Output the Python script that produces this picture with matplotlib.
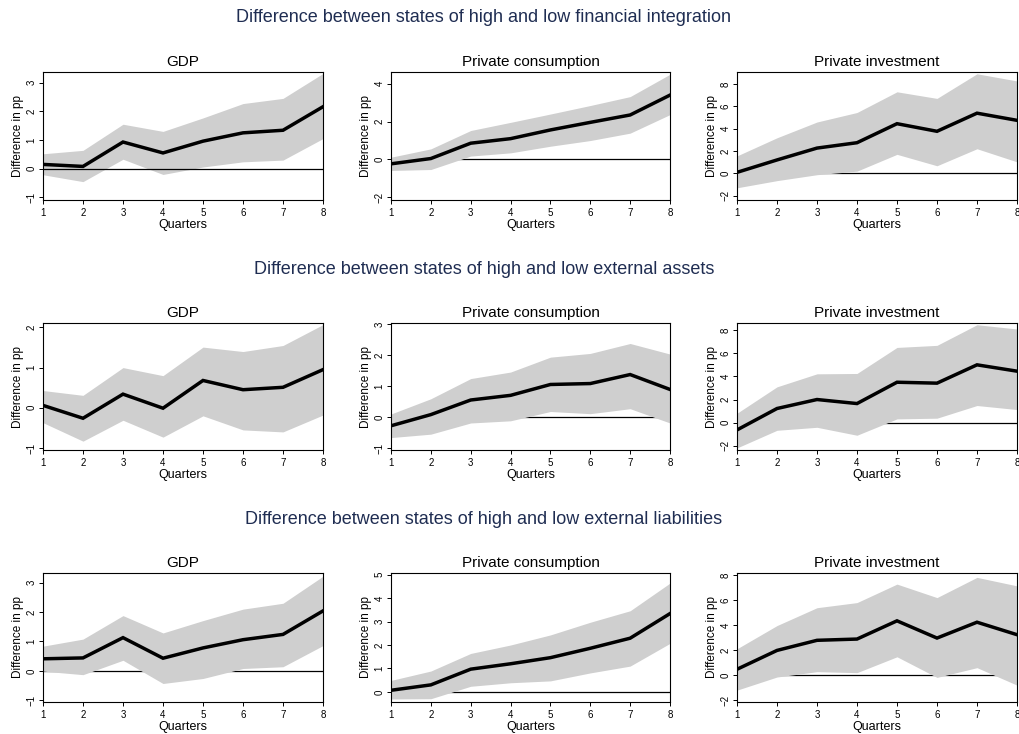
import matplotlib

matplotlib.use("Agg")
import matplotlib.pyplot as plt

plt.rcParams["font.family"] = ["Liberation Sans", "DejaVu Sans"]

quarters = [1, 2, 3, 4, 5, 6, 7, 8]

row_titles = [
    "Difference between states of high and low financial integration",
    "Difference between states of high and low external assets",
    "Difference between states of high and low external liabilities",
]
panel_titles = ["GDP", "Private consumption", "Private investment"]

# financial integration
fi_gdp = [0.15, 0.08, 0.93, 0.55, 0.96, 1.25, 1.34, 2.16]
fi_gdp_hi = [0.52, 0.64, 1.55, 1.30, 1.77, 2.27, 2.45, 3.32]
fi_gdp_lo = [-0.21, -0.45, 0.33, -0.20, 0.06, 0.24, 0.30, 1.05]
fi_cons = [-0.23, 0.05, 0.86, 1.10, 1.56, 1.96, 2.35, 3.40]
fi_cons_hi = [0.12, 0.56, 1.53, 1.96, 2.40, 2.85, 3.32, 4.50]
fi_cons_lo = [-0.58, -0.53, 0.18, 0.35, 0.70, 1.00, 1.39, 2.37]
fi_inv = [0.09, 1.20, 2.26, 2.74, 4.44, 3.76, 5.38, 4.74]
fi_inv_hi = [1.56, 3.18, 4.59, 5.44, 7.29, 6.70, 8.90, 8.26]
fi_inv_lo = [-1.29, -0.65, -0.12, 0.20, 1.70, 0.68, 2.20, 1.03]

# external assets
ea_gdp = [0.06, -0.26, 0.34, -0.01, 0.68, 0.45, 0.51, 0.95]
ea_gdp_hi = [0.43, 0.31, 1.00, 0.80, 1.51, 1.40, 1.55, 2.07]
ea_gdp_lo = [-0.37, -0.83, -0.31, -0.73, -0.20, -0.55, -0.60, -0.18]
ea_cons = [-0.27, 0.09, 0.56, 0.71, 1.06, 1.09, 1.38, 0.90]
ea_cons_hi = [0.11, 0.60, 1.25, 1.46, 1.94, 2.06, 2.38, 2.04]
ea_cons_lo = [-0.65, -0.54, -0.18, -0.11, 0.19, 0.12, 0.28, -0.18]
ea_inv = [-0.64, 1.22, 2.00, 1.65, 3.50, 3.42, 5.01, 4.46]
ea_inv_hi = [0.81, 3.10, 4.23, 4.26, 6.52, 6.70, 8.49, 8.12]
ea_inv_lo = [-2.20, -0.67, -0.41, -1.10, 0.32, 0.38, 1.48, 1.13]

# external liabilities
el_gdp = [0.41, 0.44, 1.13, 0.43, 0.78, 1.06, 1.24, 2.04]
el_gdp_hi = [0.84, 1.08, 1.88, 1.29, 1.71, 2.10, 2.30, 3.22]
el_gdp_lo = [-0.01, -0.13, 0.36, -0.43, -0.26, 0.08, 0.14, 0.86]
el_cons = [0.07, 0.30, 0.97, 1.20, 1.46, 1.86, 2.29, 3.34]
el_cons_hi = [0.49, 0.89, 1.64, 2.00, 2.43, 2.97, 3.46, 4.64]
el_cons_lo = [-0.30, -0.29, 0.24, 0.39, 0.47, 0.81, 1.10, 2.07]
el_inv = [0.46, 1.97, 2.78, 2.88, 4.34, 2.96, 4.23, 3.23]
el_inv_hi = [2.10, 3.96, 5.39, 5.80, 7.28, 6.20, 7.82, 7.14]
el_inv_lo = [-1.21, -0.16, 0.27, 0.19, 1.46, -0.19, 0.59, -0.81]

panels = [
    [(fi_gdp, fi_gdp_lo, fi_gdp_hi), (fi_cons, fi_cons_lo, fi_cons_hi), (fi_inv, fi_inv_lo, fi_inv_hi)],
    [(ea_gdp, ea_gdp_lo, ea_gdp_hi), (ea_cons, ea_cons_lo, ea_cons_hi), (ea_inv, ea_inv_lo, ea_inv_hi)],
    [(el_gdp, el_gdp_lo, el_gdp_hi), (el_cons, el_cons_lo, el_cons_hi), (el_inv, el_inv_lo, el_inv_hi)],
]

# y ticks and limits per panel
yticks = [
    [[-1, 0, 1, 2, 3], [-2, 0, 2, 4], [-2, 0, 2, 4, 6, 8]],
    [[-1, 0, 1, 2], [-1, 0, 1, 2, 3], [-2, 0, 2, 4, 6, 8]],
    [[-1, 0, 1, 2, 3], [0, 1, 2, 3, 4, 5], [-2, 0, 2, 4, 6, 8]],
]
ylims = [
    [(-1.09, 3.37), (-2.14, 4.62), (-2.38, 9.06)],
    [(-1.05, 2.11), (-1.05, 3.04), (-2.38, 8.64)],
    [(-1.06, 3.33), (-0.43, 5.07), (-2.16, 8.17)],
]

W, H = 1019, 734
fig = plt.figure(figsize=(W / 100, H / 100), dpi=100)

col_x = [(43, 323), (391, 670), (737, 1017)]
row_y = [(72, 200), (323, 450), (573, 702)]
header_y = [18, 269, 519]
navy = "#1f2d52"

for r in range(3):
    fig.text(484 / W, 1 - header_y[r] / H, row_titles[r], ha="center", va="center",
             fontsize=13, color=navy)
    top, bot = row_y[r]
    for c in range(3):
        x0, x1 = col_x[c]
        ax = fig.add_axes([x0 / W, 1 - bot / H, (x1 - x0) / W, (bot - top) / H])
        mid, lo, hi = panels[r][c]
        # in the first GDP panel the zero line sits above the band
        zline = 2.5 if (r, c) == (0, 0) else 1
        ax.axhline(0, color="black", lw=0.9, zorder=zline)
        ax.fill_between(quarters, lo, hi, color="#cfcfcf", lw=0, zorder=2)
        ax.plot(quarters, mid, color="black", lw=2.5, zorder=3, solid_joinstyle="miter")
        ax.set_xlim(1, 8)
        ax.set_ylim(*ylims[r][c])
        ax.set_xticks(quarters)
        ax.set_yticks(yticks[r][c])
        ax.tick_params(axis="both", labelsize=7, length=3, width=0.7, pad=1.5)
        ax.tick_params(axis="x", pad=2.5)
        for lab in ax.get_yticklabels():
            lab.set_rotation(90)
            lab.set_va("center")
        for s in ax.spines.values():
            s.set_linewidth(0.8)
        ax.set_title(panel_titles[c], fontsize=11, pad=4)
        ax.set_xlabel("Quarters", fontsize=9, labelpad=1)
        ax.set_ylabel("Difference in pp", fontsize=8.5, labelpad=2)

fig.savefig("out.png", dpi=100)
